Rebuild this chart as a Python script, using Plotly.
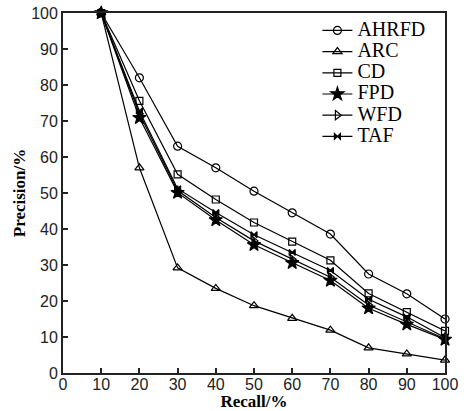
import plotly.graph_objects as go

recall = [10, 20, 30, 40, 50, 60, 70, 80, 90, 100]

ahrfd = [100, 82, 63, 57, 50.5, 44.5, 38.6, 27.5, 22, 15]
arc = [100, 57, 29.2, 23.5, 18.7, 15.2, 11.9, 7, 5.3, 3.6]
cd = [100, 75.6, 55.2, 48.2, 41.8, 36.5, 31.3, 22.1, 16.9, 11.7]
fpd = [100, 70.9, 50.1, 42.5, 35.6, 30.6, 25.7, 18, 13.5, 9.3]
wfd = [100, 72, 50.7, 43.2, 36.7, 31.6, 26.6, 18.9, 14.3, 9.5]
taf = [100, 72.8, 51.2, 44.6, 38.4, 33.5, 28.5, 20.5, 15.6, 9.8]

series = [
    ("AHRFD", ahrfd, "circle-open", 8),
    ("ARC", arc, "triangle-up-open", 8),
    ("CD", cd, "square-open", 7),
    ("FPD", fpd, "star", 10),
    ("WFD", wfd, "triangle-right-open", 8),
    ("TAF", taf, "bowtie", 6),
]

fig = go.Figure()
for name, vals, sym, size in series:
    fig.add_trace(go.Scatter(
        x=recall, y=vals, mode="lines+markers",
        # bigger text inside a small legend font keeps the rows tight
        name='<span style="font-size:20px">%s</span>' % name,
        line=dict(color="black", width=1.2),
        marker=dict(symbol=sym, size=size, color="black",
                    line=dict(color="black", width=1.2)),
        cliponaxis=False,
    ))

axis_common = dict(
    showgrid=False, zeroline=False, automargin=False,
    ticklabeloverflow="allow",
    showline=True, linecolor="#222", linewidth=1.8, mirror=True,
    ticks="inside", ticklen=5, tickcolor="#222", tickwidth=1.5,
    tickfont=dict(family="Liberation Sans", size=16, color="#222"),
    dtick=10,
)

fig.update_xaxes(range=[0, 100], ticklabelstandoff=-4, title=dict(
    text="<b>Recall/%</b>", standoff=0,
    font=dict(family="Liberation Serif", size=17, color="black")), **axis_common)
fig.update_yaxes(range=[0, 100], title=dict(
    text="<b>Precision/%</b>", standoff=1,
    font=dict(family="Liberation Serif", size=17, color="black")), **axis_common)

fig.update_layout(
    width=468, height=411,
    margin=dict(l=63, r=23, t=13, b=38),
    plot_bgcolor="white", paper_bgcolor="white",
    showlegend=True,
    legend=dict(x=0.666, y=0.995, xanchor="left", yanchor="top",
                bgcolor="rgba(0,0,0,0)", tracegroupgap=0,
                font=dict(family="Liberation Serif", size=14, color="black"),
                itemwidth=30),
)

# drop the browser's default body margin so the figure fills the window
fig.write_html("out.html", config={"displayModeBar": False},
               post_script="document.body.style.margin='0';"
                           "document.body.style.overflow='hidden';")
